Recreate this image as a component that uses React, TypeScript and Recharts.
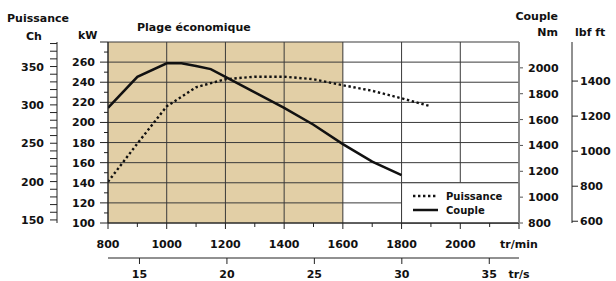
import React from 'react';
import { LineChart, Line, XAxis, YAxis, CartesianGrid, ReferenceArea, Legend } from 'recharts';

// Puissance (kW) against engine speed
const puissanceRpm = [800, 900, 1000, 1100, 1200, 1300, 1400, 1500, 1600, 1700, 1800, 1900];
const puissanceKw = [141, 179, 216, 235, 243, 245.5, 245.5, 243, 237, 231.5, 224, 216];

// Couple (Nm) against engine speed
const coupleRpm = [800, 900, 1000, 1050, 1100, 1150, 1200, 1300, 1400, 1500, 1600, 1700, 1800];
const coupleNm = [1690, 1930, 2035, 2035, 2015, 1990, 1930, 1810, 1690, 1560, 1410, 1275, 1170];

const rpmDomain = [800, 2200];
const rpmTicks = [800, 900, 1000, 1100, 1200, 1300, 1400, 1500, 1600, 1700, 1800, 1900, 2000, 2100, 2200];
const rpmGrid = [800, 1000, 1200, 1400, 1600, 1800, 2000, 2200];
const ecoRange = [800, 1600];

const trsDomain = [13.2, 36.7];
const trsTicks = [15, 20, 25, 30, 35];

const kwDomain = [100, 280];
const kwTicks = [100, 110, 120, 130, 140, 150, 160, 170, 180, 190, 200, 210, 220, 230, 240, 250, 260, 270, 280];
const kwLabels = [100, 120, 140, 160, 180, 200, 220, 240, 260];
const kwGrid = [100, 120, 140, 160, 180, 200, 220, 240, 260, 280];

const chDomain = [146, 382];
const chTicks = [150, 160, 170, 180, 190, 200, 210, 220, 230, 240, 250, 260, 270, 280, 290, 300, 310, 320, 330, 340, 350, 360, 370, 380];
const chLabels = [150, 200, 250, 300, 350];

const nmDomain = [800, 2200];
const nmTicks = [800, 1000, 1200, 1400, 1600, 1800, 2000];

const lbfDomain = [590, 1623];
const lbfTicks = [600, 800, 1000, 1200, 1400];

const legendCell = { rpm: [1800, 2200], kw: [100, 140] };

const puissanceData = puissanceRpm.map((rpm, i) => ({ rpm, kw: puissanceKw[i] }));
const coupleData = coupleRpm.map((rpm, i) => ({ rpm, nm: coupleNm[i] }));
const trsRows = trsTicks.map((trs) => ({ trs }));

const FONT = '"DejaVu Sans", Verdana, sans-serif';
const TAN = '#e2cfa6';
const GRID = '#3a3a3a';
const DOTS = '2.4 2.6';
const txt = { fontFamily: FONT, fontSize: 11, fontWeight: 700, fill: '#111' };

// axis ids sort inner-first on each side
const KW = 'y1kw';
const CH = 'y2ch';
const NM = 'y1nm';
const LBF = 'y2lbf';

// use the axis scale when the grid gets one, else the same linear mapping over the plot box
function gridPx(axis: any, offset: any, domain: number[], v: number, vertical: boolean) {
  const s = axis && axis.scale;
  if (typeof s === 'function') return s(v);
  if (s && typeof s.map === 'function') return s.map(v);
  const t = (v - domain[0]) / (domain[1] - domain[0]);
  return vertical ? offset.left + t * offset.width : offset.top + (1 - t) * offset.height;
}

function RpmTick({ x, y, payload }: any) {
  const v = payload.value;
  const major = v % 200 === 0;
  return (
    <g>
      <line x1={x} x2={x} y1={y} y2={y + (major ? 6 : 4)} stroke="#222" />
      {major && (
        <text x={x} y={y + 25} textAnchor="middle" {...txt}>
          {v === rpmDomain[1] ? 'tr/min' : v}
        </text>
      )}
    </g>
  );
}

function TrsTick({ x, y, payload }: any) {
  const v = payload.value;
  if (!trsTicks.includes(v)) {
    return (
      <text x={x} y={y + 20} textAnchor="middle" {...txt}>
        tr/s
      </text>
    );
  }
  return (
    <g>
      <line x1={x} x2={x} y1={y} y2={y + 6} stroke="#222" />
      <text x={x} y={y + 20} textAnchor="middle" {...txt}>
        {v}
      </text>
    </g>
  );
}

function KwTick({ x, y, payload }: any) {
  const v = payload.value;
  const major = v % 20 === 0;
  return (
    <g>
      <line x1={x - (major ? 8 : 4)} x2={x} y1={y} y2={y} stroke="#222" />
      {kwLabels.includes(v) && (
        <text x={x - 13} y={y + 4} textAnchor="end" {...txt}>
          {v}
        </text>
      )}
    </g>
  );
}

function ChTick({ x, y, payload }: any) {
  const v = payload.value;
  return (
    <g>
      <line x1={x - 7} x2={x} y1={y} y2={y} stroke="#222" />
      {chLabels.includes(v) && (
        <text x={x - 13} y={y + 4} textAnchor="end" {...txt}>
          {v}
        </text>
      )}
    </g>
  );
}

function NmTick({ x, y, payload }: any) {
  return (
    <g>
      <line x1={x + 1} x2={x + 4} y1={y} y2={y} stroke="#555" />
      <text x={x + 9} y={y + 4} textAnchor="start" {...txt}>
        {payload.value}
      </text>
    </g>
  );
}

function LbfTick({ x, y, payload }: any) {
  return (
    <g>
      <line x1={x} x2={x + 6} y1={y} y2={y} stroke="#222" />
      <text x={x + 8} y={y + 4} textAnchor="start" {...txt}>
        {payload.value}
      </text>
    </g>
  );
}

function LegendBox() {
  const l = { fontFamily: FONT, fontSize: 10, fontWeight: 700, fill: '#111' };
  return (
    <svg width={108} height={32} style={{ display: 'block' }}>
      <line x1={3} x2={28} y1={8} y2={8} stroke="#111" strokeWidth={2.4} strokeDasharray={DOTS} />
      <text x={36} y={11.5} {...l}>Puissance</text>
      <line x1={3} x2={28} y1={22} y2={22} stroke="#111" strokeWidth={2.5} />
      <text x={36} y={25.5} {...l}>Couple</text>
    </svg>
  );
}

export default function App() {
  const stripeFill = rpmGrid.slice(0, -1).map((v) => (v >= ecoRange[0] && v < ecoRange[1] ? TAN : '#fff'));

  return (
    <div style={{ position: 'absolute', left: 0, top: 0, width: 616, height: 281, background: '#fff' }}>
      <LineChart width={616} height={281} data={trsRows} margin={{ top: 42, right: 0, bottom: 0, left: 0 }}>
        <CartesianGrid
          xAxisId="rpm"
          yAxisId={KW}
          stroke={GRID}
          verticalFill={stripeFill}
          fillOpacity={1}
          verticalCoordinatesGenerator={({ xAxis, offset }: any) =>
            rpmGrid.map((v) => gridPx(xAxis, offset, rpmDomain, v, true))
          }
          horizontalCoordinatesGenerator={({ yAxis, offset }: any) =>
            kwGrid.map((v) => gridPx(yAxis, offset, kwDomain, v, false))
          }
        />
        <ReferenceArea
          xAxisId="rpm"
          yAxisId={KW}
          x1={legendCell.rpm[0]}
          x2={legendCell.rpm[1]}
          y1={legendCell.kw[0]}
          y2={legendCell.kw[1]}
          fill="#fff"
          fillOpacity={1}
          stroke={GRID}
        />
        <XAxis
          xAxisId="rpm"
          dataKey="rpm"
          type="number"
          domain={rpmDomain}
          ticks={rpmTicks}
          interval={0}
          allowDataOverflow
          height={35}
          tickSize={0}
          tickMargin={0}
          tickLine={false}
          axisLine={{ stroke: '#222' }}
          tick={<RpmTick />}
        />
        <XAxis
          xAxisId="trs"
          dataKey="trs"
          type="number"
          domain={trsDomain}
          ticks={[...trsTicks, trsDomain[1]]}
          interval={0}
          allowDataOverflow
          height={23}
          tickSize={0}
          tickMargin={0}
          tickLine={false}
          axisLine={{ stroke: '#222' }}
          tick={<TrsTick />}
        />
        <YAxis
          yAxisId={KW}
          orientation="left"
          type="number"
          domain={kwDomain}
          ticks={kwTicks}
          interval={0}
          allowDataOverflow
          width={51}
          tickSize={0}
          tickMargin={0}
          tickLine={false}
          axisLine={{ stroke: '#222' }}
          tick={<KwTick />}
        />
        <YAxis
          yAxisId={CH}
          orientation="left"
          type="number"
          domain={chDomain}
          ticks={chTicks}
          interval={0}
          allowDataOverflow
          width={57}
          tickSize={0}
          tickMargin={0}
          tickLine={false}
          axisLine={{ stroke: '#222' }}
          tick={<ChTick />}
        />
        <YAxis
          yAxisId={NM}
          orientation="right"
          type="number"
          domain={nmDomain}
          ticks={nmTicks}
          interval={0}
          allowDataOverflow
          width={53}
          tickSize={0}
          tickMargin={0}
          tickLine={false}
          axisLine={{ stroke: '#888', strokeWidth: 1.5 }}
          tick={<NmTick />}
        />
        <YAxis
          yAxisId={LBF}
          orientation="right"
          type="number"
          domain={lbfDomain}
          ticks={lbfTicks}
          interval={0}
          allowDataOverflow
          width={44}
          tickSize={0}
          tickMargin={0}
          tickLine={false}
          axisLine={{ stroke: '#222' }}
          tick={<LbfTick />}
        />
        <Line
          xAxisId="rpm"
          yAxisId={KW}
          data={puissanceData}
          dataKey="kw"
          name="Puissance"
          type="linear"
          stroke="#111"
          strokeWidth={2.4}
          strokeDasharray={DOTS}
          dot={false}
          isAnimationActive={false}
        />
        <Line
          xAxisId="rpm"
          yAxisId={NM}
          data={coupleData}
          dataKey="nm"
          name="Couple"
          type="linear"
          stroke="#111"
          strokeWidth={2.5}
          dot={false}
          isAnimationActive={false}
        />
        <Legend
          layout="vertical"
          align="center"
          verticalAlign="middle"
          content={() => <LegendBox />}
          wrapperStyle={{ left: 410, top: 188, width: 108, height: 32 }}
        />
      </LineChart>
      <svg width={616} height={281} style={{ position: 'absolute', left: 0, top: 0, pointerEvents: 'none' }}>
        <text x={7} y={22} {...txt}>Puissance</text>
        <text x={26} y={40} {...txt}>Ch</text>
        <text x={78} y={39} {...txt}>kW</text>
        <text x={137} y={31} {...txt}>Plage économique</text>
        <text x={558} y={20} textAnchor="end" {...txt}>Couple</text>
        <text x={558} y={36} textAnchor="end" {...txt}>Nm</text>
        <text x={575} y={36} {...txt}>lbf ft</text>
      </svg>
    </div>
  );
}
